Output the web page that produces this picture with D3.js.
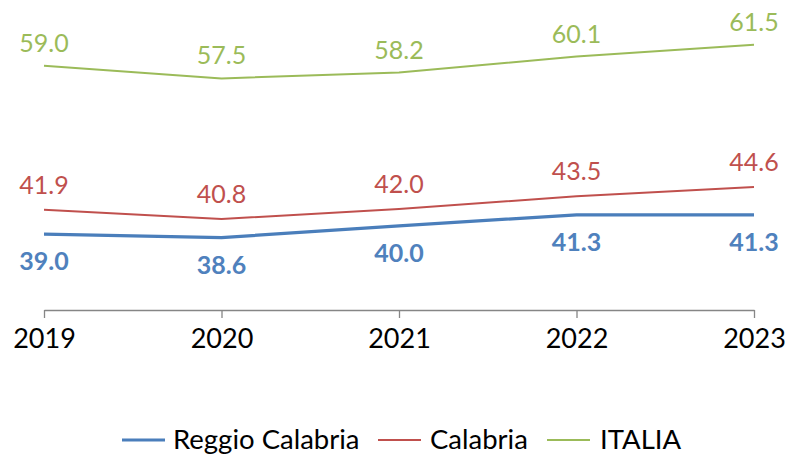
<!DOCTYPE html>
<html>
<head>
<meta charset="utf-8">
<script src="https://cdn.jsdelivr.net/npm/d3@7"></script>
<style>
  body { margin: 0; background: #fff; }
  svg { font-family: Lato, "Open Sans", sans-serif; }
</style>
</head>
<body>
<div id="chart"></div>
<script>
var years = ["2019", "2020", "2021", "2022", "2023"];
var reggio = [39.0, 38.6, 40.0, 41.3, 41.3];
var calabria = [41.9, 40.8, 42.0, 43.5, 44.6];
var italia = [59.0, 57.5, 58.2, 60.1, 61.5];
var seriesNames = ["Reggio Calabria", "Calabria", "ITALIA"];

var svgWidth = 789, svgHeight = 456;

var svg = d3.select("#chart")
  .append("svg")
  .attr("width", svgWidth)
  .attr("height", svgHeight);

// scales
var x = d3.scalePoint()
  .domain(years)
  .range([44, 754]);

var y = d3.scaleLinear()
  .domain([30, 65])
  .range([310, 15.3]);

// x axis
var xAxis = svg.append("g")
  .attr("transform", "translate(0,310)")
  .call(d3.axisBottom(x).tickSize(8).tickSizeOuter(0).tickPadding(11));
xAxis.select(".domain").attr("stroke", "#868686").attr("stroke-width", 1.3);
xAxis.selectAll(".tick line").attr("stroke", "#868686").attr("stroke-width", 1.3);
xAxis.selectAll(".tick text")
  .attr("fill", "#000")
  .style("font-size", "27px")
  .style("font-family", "Lato, sans-serif");

var series = [
  { name: "Reggio Calabria", values: reggio, color: "#4a7ebb", width: 3.2, label: "#4f81bd", weight: "bold", dy: 36 },
  { name: "Calabria", values: calabria, color: "#c0504d", width: 2, label: "#c0504d", weight: "normal", dy: -16 },
  { name: "ITALIA", values: italia, color: "#9bbb59", width: 2, label: "#9bbb59", weight: "normal", dy: -14 }
];

var line = d3.line()
  .x((d, i) => x(years[i]))
  .y(d => y(d));

series.forEach(function(s) {
  svg.append("path")
    .datum(s.values)
    .attr("fill", "none")
    .attr("stroke", s.color)
    .attr("stroke-width", s.width)
    .attr("d", line);

  svg.append("g").selectAll("text")
    .data(s.values)
    .enter()
    .append("text")
    .attr("x", (d, i) => x(years[i]))
    .attr("y", d => y(d) + s.dy)
    .attr("text-anchor", "middle")
    .attr("fill", s.label)
    .style("font-size", "25px")
    .style("font-weight", s.weight)
    .text(d => d.toFixed(1));
});

// legend
var legendItems = [
  { x: 122, textX: 173 },
  { x: 378, textX: 430 },
  { x: 547, textX: 600 }
];
var legend = svg.append("g");
series.forEach(function(s, i) {
  legend.append("line")
    .attr("x1", legendItems[i].x)
    .attr("x2", legendItems[i].x + 43)
    .attr("y1", 440)
    .attr("y2", 440)
    .attr("stroke", s.color)
    .attr("stroke-width", s.width);
  legend.append("text")
    .attr("x", legendItems[i].textX)
    .attr("y", 449)
    .attr("fill", "#000")
    .style("font-size", "27.5px")
    .text(seriesNames[i]);
});
</script>
</body>
</html>
